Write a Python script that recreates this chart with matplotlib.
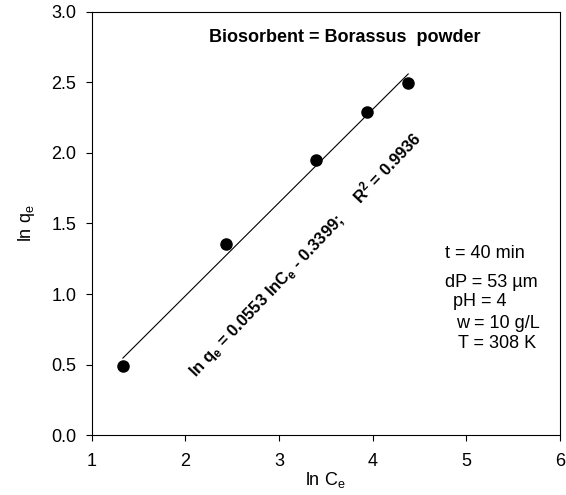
import matplotlib
matplotlib.use('Agg')
import matplotlib.pyplot as plt
from matplotlib.ticker import MultipleLocator

plt.rcParams['font.family'] = ['Liberation Sans', 'DejaVu Sans']
plt.rcParams['mathtext.default'] = 'regular'

# data
ln_ce = [1.333, 2.435, 3.396, 3.937, 4.381]
ln_qe = [0.489, 1.355, 1.950, 2.293, 2.494]

# fitted line end points
fit_x = [1.333, 4.381]
fit_y = [0.546, 2.560]

title_txt = 'Biosorbent = Borassus  powder'
eq_txt = 'ln q$_{e}$ = 0.0553 lnC$_{e}$ - 0.3399;     R$^{2}$ = 0.9936'
cond_txt = ['t = 40 min', 'dP = 53 \u00b5m', 'pH = 4', 'w = 10 g/L', 'T = 308 K']
cond_x = [4.77, 4.77, 4.86, 4.89, 4.91]
cond_y = [1.29, 1.085, 0.95, 0.794, 0.652]

fig = plt.figure(figsize=(5.66, 4.95), dpi=100)
ax = fig.add_axes([0.162, 0.121, 0.827, 0.855])

ax.plot(fit_x, fit_y, color='black', linewidth=0.8)
ax.plot(ln_ce, ln_qe, 'o', color='black', markersize=8)

ax.set_xlim(1, 6)
ax.set_ylim(0, 3)
ax.xaxis.set_major_locator(MultipleLocator(1))
ax.yaxis.set_major_locator(MultipleLocator(0.5))
ax.yaxis.set_major_formatter(matplotlib.ticker.FormatStrFormatter('%.1f'))
ax.tick_params(direction='out', length=4, width=0.8, labelsize=13,
               top=False, right=False)
ax.tick_params(axis='x', pad=9)
ax.tick_params(axis='y', pad=7)
for s in ax.spines.values():
    s.set_linewidth(0.8)

ax.set_xlabel('ln C$_{e}$', fontsize=13, labelpad=0)
ax.set_ylabel('ln q$_{e}$', fontsize=13, labelpad=10)

ax.text(3.705, 2.82, title_txt, fontsize=13, fontweight='bold',
        ha='center', va='center')
ax.text(3.28, 1.28, eq_txt, fontsize=12, fontweight='bold',
        rotation=46.5, ha='center', va='center', rotation_mode='anchor')
for t, x, y in zip(cond_txt, cond_x, cond_y):
    ax.text(x, y, t, fontsize=13, ha='left', va='center')

plt.savefig('out.png', dpi=100)
